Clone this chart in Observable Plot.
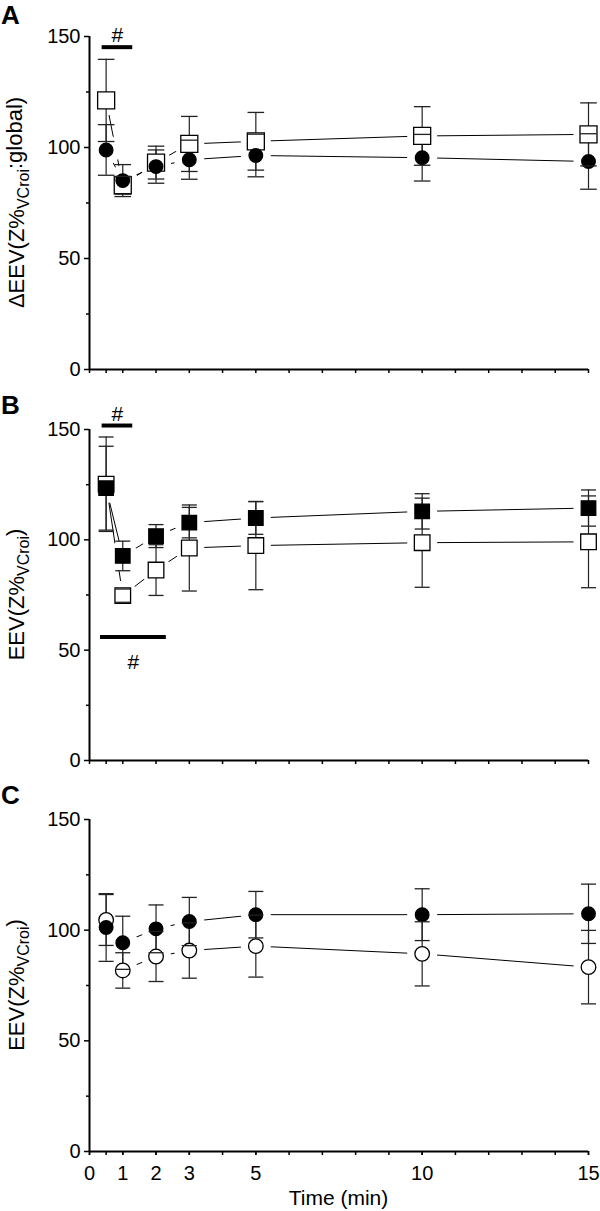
<!DOCTYPE html>
<html>
<head>
<meta charset="utf-8">
<script src="https://cdn.jsdelivr.net/npm/d3@7"></script>
<script src="https://cdn.jsdelivr.net/npm/@observablehq/plot@0.6"></script>
<style>
  body { margin: 0; background: #fff; }
  #chart { width: 600px; }
  #chart svg { display: block; }
</style>
</head>
<body>
<div id="chart"></div>
<script>
// ---- data ----
const time = [0.5, 1, 2, 3, 5, 10, 15];

// Panel A
const aOpenSquareMean   = [121.2, 83.0, 93.2, 101.6, 102.8, 105.2, 105.9];
const aOpenSquareErr    = [18.5, 4.0, 7.4, 12.4, 13.0, 13.2, 14.2];
const aFilledCircleMean = [98.9, 85.1, 91.4, 94.5, 96.4, 95.4, 93.7];
const aFilledCircleErr  = [11.4, 7.2, 7.5, 8.8, 9.6, 10.5, 12.5];

// Panel B
const bOpenSquareMean   = [125.2, 74.7, 86.3, 96.3, 97.4, 98.7, 99.1];
const bOpenSquareErr    = [21.4, 3.0, 11.5, 19.5, 20.0, 20.2, 20.8];
const bFilledSquareMean = [123.4, 92.7, 101.7, 107.8, 109.9, 112.9, 114.4];
const bFilledSquareErr  = [19.0, 6.7, 5.2, 6.9, 7.4, 8.0, 8.2];

// Panel C
const cOpenCircleMean   = [104.6, 81.8, 88.1, 90.8, 92.8, 89.3, 83.3];
const cOpenCircleErr    = [11.5, 8.0, 11.3, 12.5, 14.0, 14.5, 16.6];
const cFilledCircleMean = [101.2, 94.3, 100.6, 103.9, 107.0, 107.0, 107.4];
const cFilledCircleErr  = [15.3, 12.0, 10.8, 10.9, 10.5, 11.7, 13.4];

// significance bars
const aSig = [{from: 0.38, to: 1.3, y: 145.2, label: "#", side: "above"}];
const bSig = [
  {from: 0.38, to: 1.3, y: 151.8, label: "#", side: "above"},
  {from: 0.33, to: 2.31, y: 56, label: "#", side: "below"}
];
const cSig = [];

// ticks
const xLabelTicks = [0, 1, 2, 3, 5, 10, 15];
const xAllTicks = [0, 0.5, 1, 2, 3, 4, 5, 6, 7, 8, 9, 10, 11, 12, 13, 14, 15];
const yMajorTicks = [0, 50, 100, 150];
const yMinorTicks = [25, 75, 125];

// ---- helpers ----
const FONT = "'Liberation Sans', Arial, Helvetica, sans-serif";
const capSymbol = {
  draw(context, size) {
    const r = Math.sqrt(size / Math.PI);
    context.moveTo(-r, 0);
    context.lineTo(r, 0);
  }
};

function rows(mean, err) {
  return time.map((t, i) => ({t, m: mean[i], lo: mean[i] - err[i], hi: mean[i] + err[i]}));
}

function panel({series, sig, letter, labelParts, height, marginTop, marginBottom, showXLabels}) {
  const data = series.map(s => rows(s.mean, s.err));
  const marks = [];
  data.forEach(d => marks.push(Plot.line(d, {x: "t", y: "m", stroke: "black", strokeWidth: 1})));
  data.forEach(d => marks.push(Plot.dot(d, {x: "t", y: "m", r: 15, fill: "white", stroke: "none"})));
  data.forEach(d => marks.push(Plot.ruleX(d, {x: "t", y1: "lo", y2: "hi", stroke: "#222", strokeWidth: 1.2})));
  series.forEach((s, i) => marks.push(Plot.dot(data[i], {
    x: "t", y: "m", symbol: s.symbol, r: s.r, fill: s.fill, stroke: "black", strokeWidth: 1.3
  })));
  series.forEach((s, i) => {
    marks.push(Plot.dot(data[i], {x: "t", y: "hi", symbol: capSymbol, r: s.cap, stroke: "#222", strokeWidth: 1.3, fill: "none"}));
    marks.push(Plot.dot(data[i], {x: "t", y: "lo", symbol: capSymbol, r: s.cap, stroke: "#222", strokeWidth: 1.3, fill: "none"}));
  });
  marks.push(Plot.ruleY(sig, {x1: "from", x2: "to", y: "y", stroke: "black", strokeWidth: 4}));
  marks.push(Plot.text(sig, {
    x: d => (d.from + d.to) / 2, y: "y", text: "label", fontSize: 21, fill: "black"
  }));
  marks.push(Plot.axisY(yMajorTicks, {tickSize: 5, tickPadding: 4, strokeWidth: 1.5, label: null, fontSize: 20}));
  marks.push(Plot.axisY(yMinorTicks, {tickSize: 3, text: null, strokeWidth: 1.5, label: null}));
  marks.push(Plot.axisX(xAllTicks, {tickSize: 4, text: null, strokeWidth: 1.5, label: null}));
  if (showXLabels) {
    marks.push(Plot.axisX(xLabelTicks, {tickSize: 4, tickPadding: 10, strokeWidth: 1.5, label: null, fontSize: 20}));
  }
  marks.push(Plot.ruleX([0], {strokeWidth: 2, stroke: "black"}));
  marks.push(Plot.ruleY([0], {strokeWidth: 2, stroke: "black"}));

  const svg = Plot.plot({
    width: 600,
    height,
    marginLeft: 89,
    marginRight: 12,
    marginTop,
    marginBottom,
    style: {fontFamily: FONT, fontSize: "20px", color: "black", background: "white", overflow: "visible"},
    x: {domain: [0, 15]},
    y: {domain: [0, 150]},
    marks
  });

  const sel = d3.select(svg);
  const yScale = svg.scale("y");
  const xScale = svg.scale("x");

  sel.append("text")
    .attr("x", 1).attr("y", 24)
    .attr("text-anchor", "start")
    .style("font-family", FONT).style("font-size", "26px").style("font-weight", "bold")
    .text(letter);

  const cy = (yScale.apply(0) + yScale.apply(150)) / 2;
  const t = sel.append("text")
    .attr("transform", `translate(24,${cy}) rotate(-90)`)
    .attr("text-anchor", "middle")
    .style("font-family", FONT).style("font-size", "22px");
  labelParts.forEach(p => {
    const ts = t.append("tspan").text(p.text);
    if (p.sub) ts.style("font-size", "16px").attr("dy", "0.3em");
    if (p.after) ts.attr("dy", "-0.3em");
  });

  if (showXLabels) {
    sel.append("text")
      .attr("x", (xScale.apply(0) + xScale.apply(15)) / 2)
      .attr("y", height - 6)
      .attr("text-anchor", "middle")
      .style("font-family", FONT).style("font-size", "21px")
      .text("Time (min)");
  }
  return svg;
}

function fixHash(svg, sig) {
  const texts = d3.select(svg).selectAll("g[aria-label='text'] text");
  texts.each(function(_, i) {
    const s = sig[i];
    if (!s) return;
    d3.select(this).attr("dy", s.side === "above" ? "-0.55em" : "1.2em");
  });
}

const root = document.getElementById("chart");

const svgA = panel({
  series: [
    {mean: aOpenSquareMean, err: aOpenSquareErr, symbol: "square", r: 9.6, fill: "white", cap: 8.3},
    {mean: aFilledCircleMean, err: aFilledCircleErr, symbol: "circle", r: 6.8, fill: "black", cap: 8.3}
  ],
  sig: aSig, letter: "A",
  labelParts: [{text: "\u0394EEV(Z%"}, {text: "VCroi", sub: true}, {text: ":global)", after: true}],
  height: 390, marginTop: 36, marginBottom: 21, showXLabels: false
});
fixHash(svgA, aSig);
root.appendChild(svgA);

const svgB = panel({
  series: [
    {mean: bOpenSquareMean, err: bOpenSquareErr, symbol: "square", r: 8.8, fill: "white", cap: 7.5},
    {mean: bFilledSquareMean, err: bFilledSquareErr, symbol: "square", r: 8.2, fill: "black", cap: 7.5}
  ],
  sig: bSig, letter: "B",
  labelParts: [{text: "EEV(Z%"}, {text: "VCroi", sub: true}, {text: ")", after: true}],
  height: 390, marginTop: 39, marginBottom: 20, showXLabels: false
});
fixHash(svgB, bSig);
root.appendChild(svgB);

const svgC = panel({
  series: [
    {mean: cOpenCircleMean, err: cOpenCircleErr, symbol: "circle", r: 7.3, fill: "white", cap: 7.5},
    {mean: cFilledCircleMean, err: cFilledCircleErr, symbol: "circle", r: 6.8, fill: "black", cap: 7.5}
  ],
  sig: cSig, letter: "C",
  labelParts: [{text: "EEV(Z%"}, {text: "VCroi", sub: true}, {text: ")", after: true}],
  height: 431, marginTop: 39, marginBottom: 60, showXLabels: true
});
root.appendChild(svgC);
</script>
</body>
</html>
